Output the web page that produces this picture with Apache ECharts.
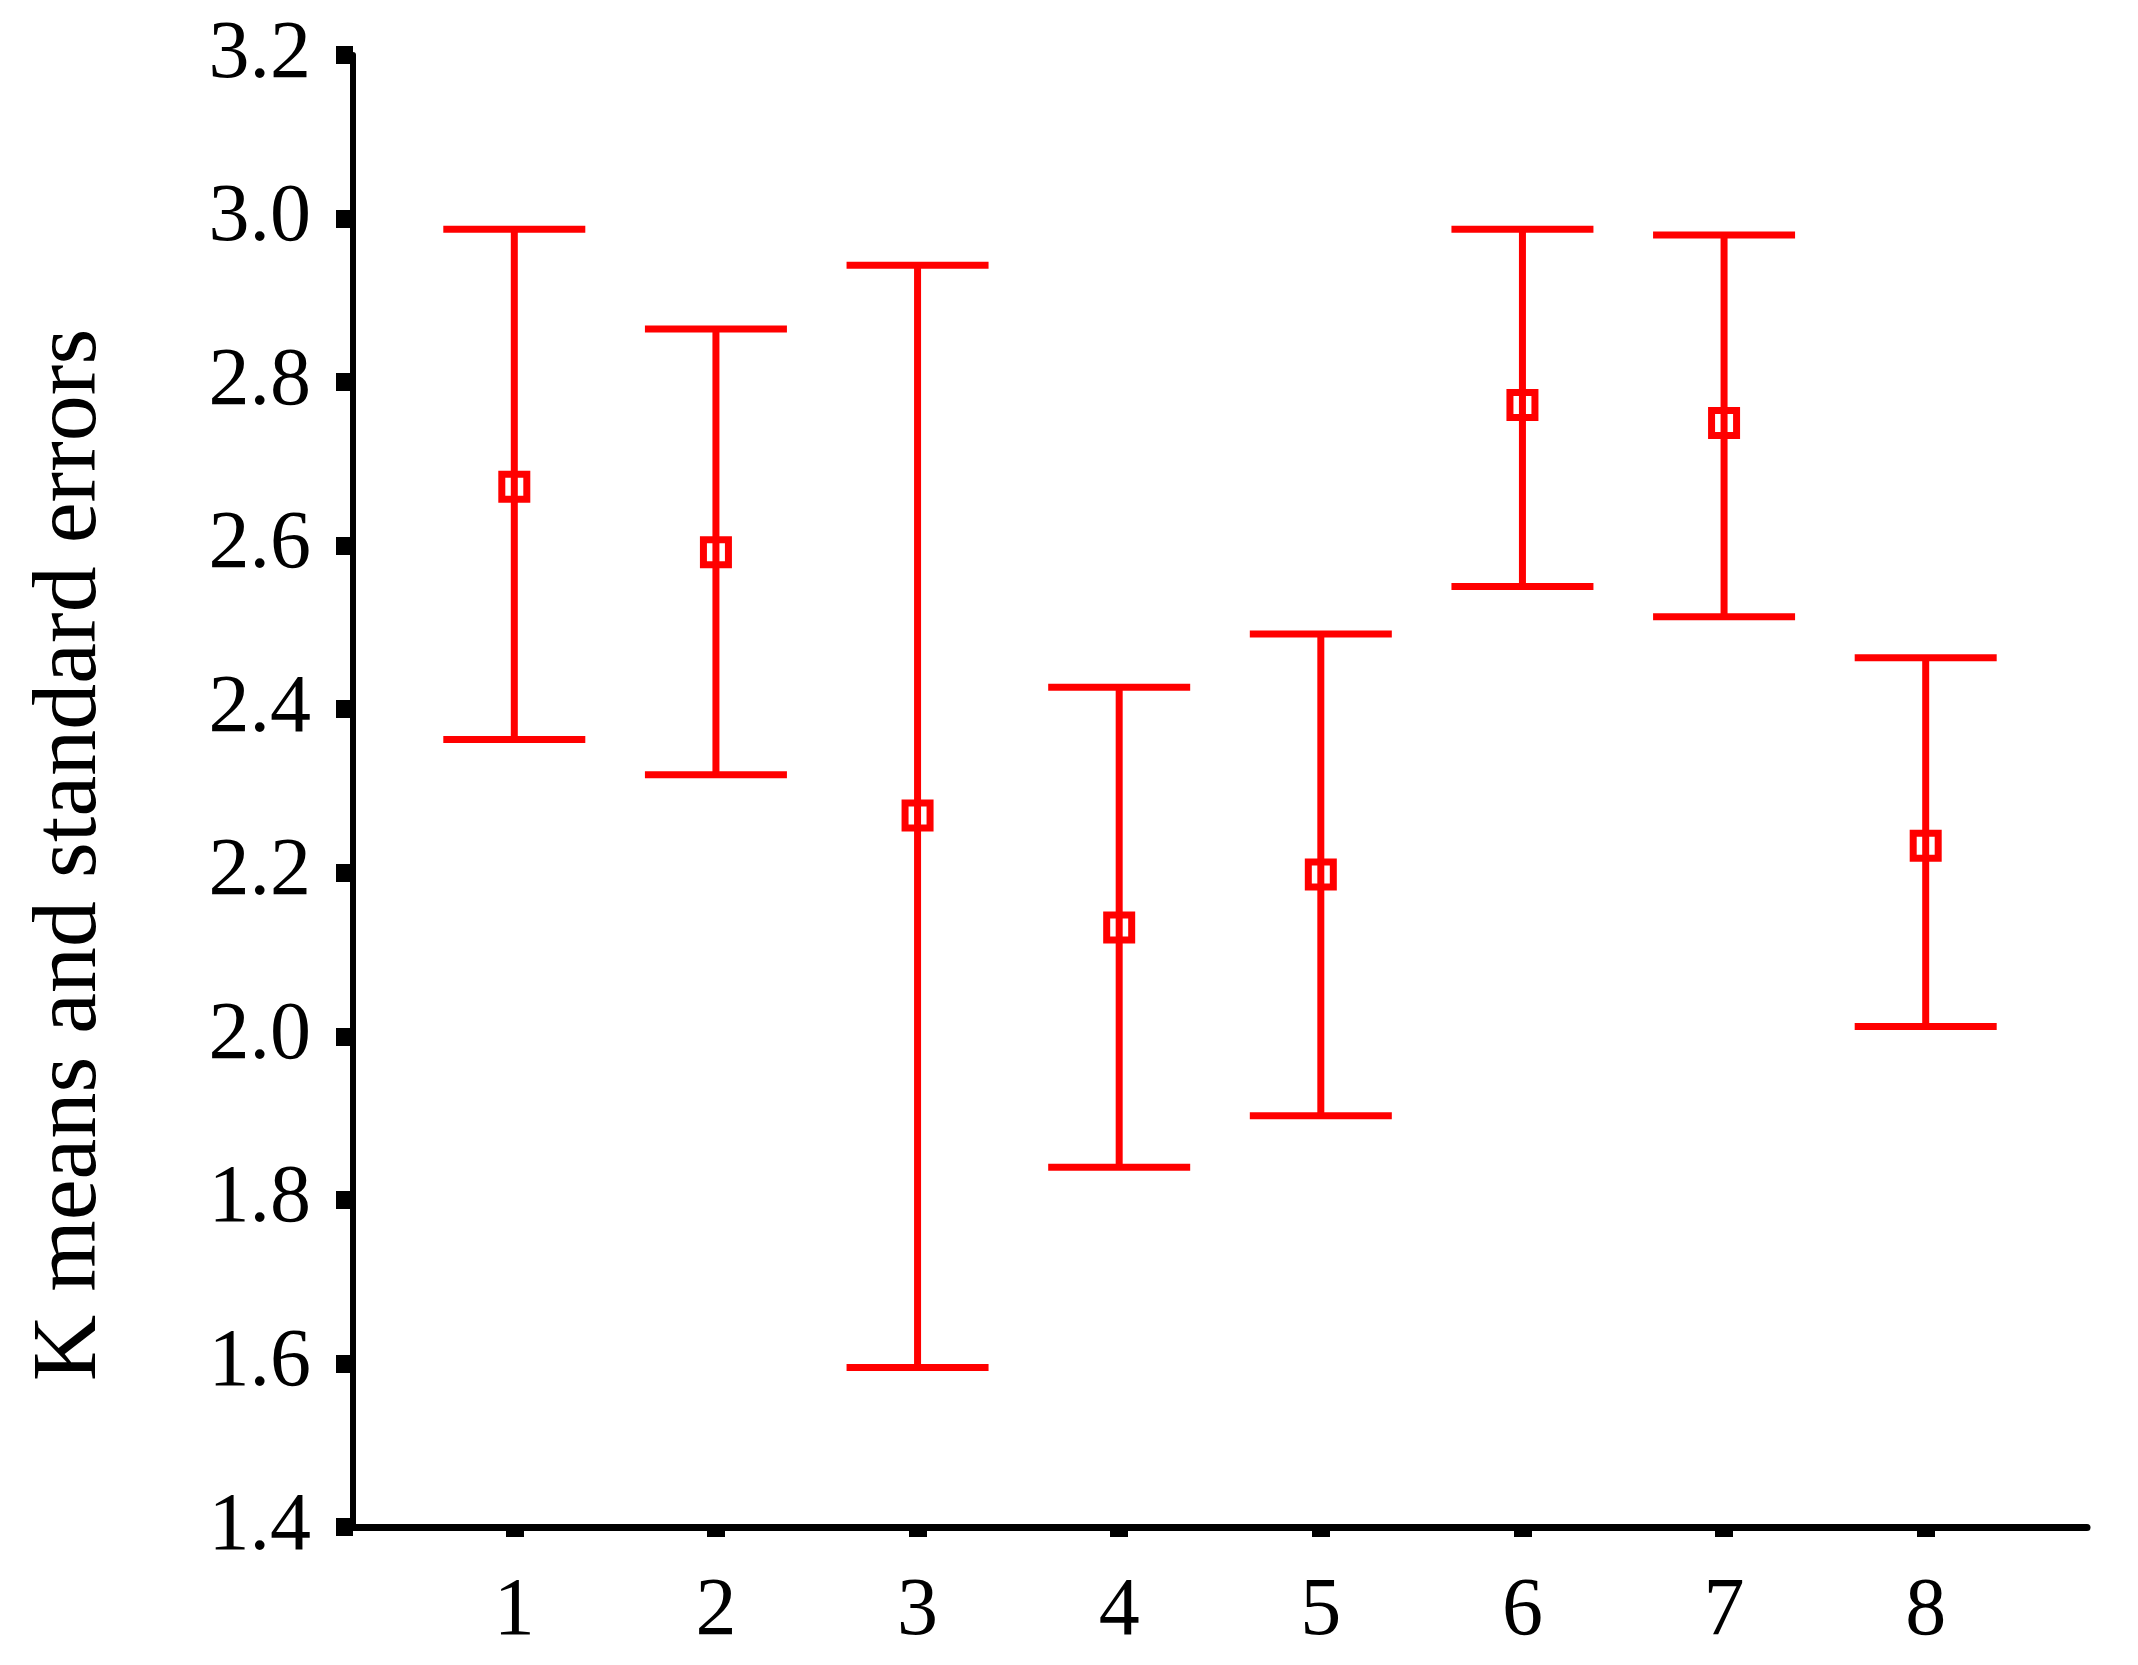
<!DOCTYPE html>
<html><head><meta charset="utf-8">
<script src="https://cdn.jsdelivr.net/npm/echarts@6/dist/echarts.min.js"></script>
<style>html,body{margin:0;padding:0;background:#fff}#c{width:2138px;height:1665px}</style>
</head><body><div id="c"></div>
<script>
const groups = [1, 2, 3, 4, 5, 6, 7, 8];
const means = [2.672, 2.592, 2.270, 2.133, 2.198, 2.772, 2.750, 2.233];
const upper = [2.987, 2.865, 2.943, 2.427, 2.492, 2.987, 2.980, 2.463];
const lower = [2.363, 2.320, 1.595, 1.840, 1.903, 2.550, 2.513, 2.012];
const yTitle = 'K means and standard errors';

const FONT = '"Liberation Serif", "Times New Roman", serif';
const RED = '#ff0000';

const chart = echarts.init(document.getElementById('c'), null, {renderer: 'canvas'});
chart.setOption({
  animation: false,
  backgroundColor: '#ffffff',
  grid: {left: 353, right: 51, top: 55, bottom: 138, containLabel: false},
  xAxis: {
    type: 'value', min: 0.2, max: 8.8,
    axisLine: {show: true, onZero: false, lineStyle: {color: '#000', width: 7}},
    axisTick: {show: true, customValues: groups, length: 10, lineStyle: {color: '#000', width: 18}},
    axisLabel: {show: true, customValues: groups, margin: 44, fontFamily: FONT, fontSize: 82, color: '#000',
      formatter: v => String(Math.round(v))},
    splitLine: {show: false}
  },
  yAxis: {
    type: 'value', min: 1.4, max: 3.2, interval: 0.2,
    name: yTitle, nameLocation: 'middle', nameGap: 236,
    nameTextStyle: {fontFamily: FONT, fontSize: 92, color: '#000', padding: [0, 128, 0, 0]},
    axisLine: {show: true, onZero: false, lineStyle: {color: '#000', width: 6}},
    axisTick: {show: true, length: 17, lineStyle: {color: '#000', width: 18}},
    axisLabel: {margin: 42, fontFamily: FONT, fontSize: 82, color: '#000', formatter: v => v.toFixed(1)},
    splitLine: {show: false}
  },
  series: [
    {
      type: 'custom',
      data: groups.map((g, i) => [g, lower[i], upper[i]]),
      encode: {x: 0, y: [1, 2]},
      renderItem: function (params, api) {
        const x = api.value(0), lo = api.value(1), hi = api.value(2);
        const pHi = api.coord([x, hi]);
        const pLo = api.coord([x, lo]);
        const hw = 71;
        const style = {stroke: RED, lineWidth: 7, fill: null};
        return {
          type: 'group',
          children: [
            {type: 'line', shape: {x1: pHi[0], y1: pHi[1], x2: pLo[0], y2: pLo[1]}, style: style},
            {type: 'line', shape: {x1: pHi[0] - hw, y1: pHi[1], x2: pHi[0] + hw, y2: pHi[1]}, style: style},
            {type: 'line', shape: {x1: pLo[0] - hw, y1: pLo[1], x2: pLo[0] + hw, y2: pLo[1]}, style: style}
          ]
        };
      },
      z: 2
    },
    {
      type: 'scatter',
      data: groups.map((g, i) => [g, means[i]]),
      symbol: 'rect',
      symbolSize: 25,
      itemStyle: {color: 'rgba(0,0,0,0)', borderColor: RED, borderWidth: 7, opacity: 1},
      z: 3
    }
  ]
});
</script>
</body></html>
